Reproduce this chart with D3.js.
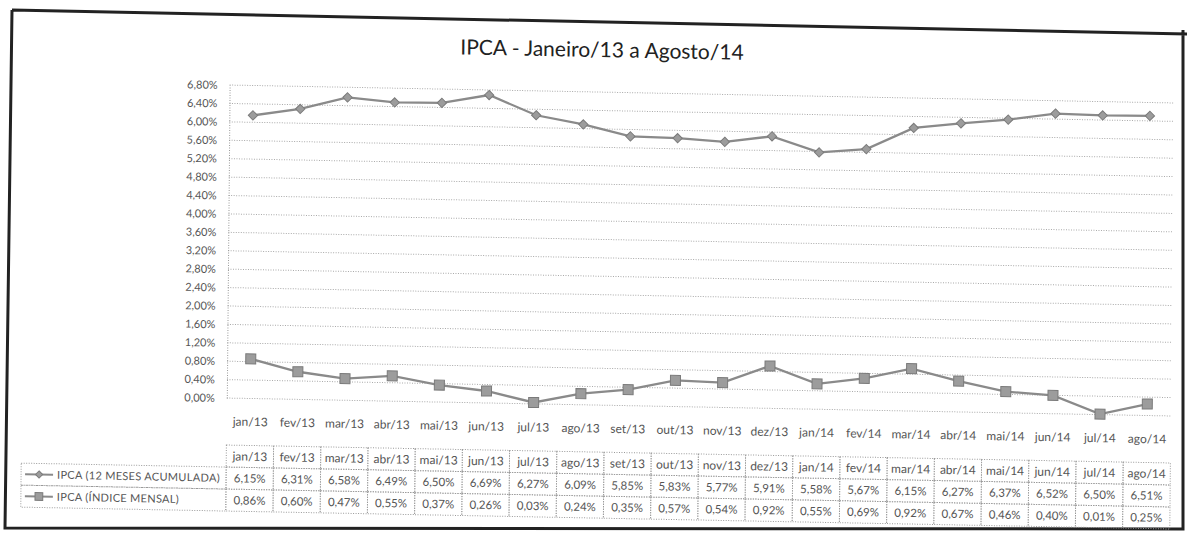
<!DOCTYPE html>
<html>
<head>
<meta charset="utf-8">
<script src="https://cdn.jsdelivr.net/npm/d3@7"></script>
<style>
  body { margin: 0; background: #fff; }
  text { font-family: Lato, "Open Sans", sans-serif; }
</style>
</head>
<body>
<div id="chart"></div>
<script>
// data
const months = ["jan/13", "fev/13", "mar/13", "abr/13", "mai/13", "jun/13", "jul/13", "ago/13", "set/13", "out/13",
                "nov/13", "dez/13", "jan/14", "fev/14", "mar/14", "abr/14", "mai/14", "jun/14", "jul/14", "ago/14"];
const acumulado = [6.15, 6.31, 6.58, 6.49, 6.50, 6.69, 6.27, 6.09, 5.85, 5.83, 5.77, 5.91, 5.58, 5.67, 6.15, 6.27, 6.37, 6.52, 6.50, 6.51];
const mensal = [0.86, 0.60, 0.47, 0.55, 0.37, 0.26, 0.03, 0.24, 0.35, 0.57, 0.54, 0.92, 0.55, 0.69, 0.92, 0.67, 0.46, 0.40, 0.01, 0.25];
const seriesNames = ["IPCA (12 MESES ACUMULADA)", "IPCA (ÍNDICE MENSAL)"];
const yTicks = [0, 0.4, 0.8, 1.2, 1.6, 2.0, 2.4, 2.8, 3.2, 3.6, 4.0, 4.4, 4.8, 5.2, 5.6, 6.0, 6.4, 6.8];
const title = "IPCA - Janeiro/13 a Agosto/14";

const W = 1187, H = 545;
const plot = { left: 228, right: 1172, top: 92, bottom: 405 };
const table = { top: 452, rowH: 22, legendLeft: 23 };

const br = d3.formatLocale({ decimal: ",", thousands: ".", grouping: [3], currency: ["R$", ""] });
const pct = v => br.format(".2f")(v) + "%";

const svg = d3.select("#chart").append("svg")
    .attr("width", W)
    .attr("height", H);

// outer frame of the scanned page (slightly skewed)
svg.append("path")
    .attr("d", "M12,10 L1190,34 M1183,30 L1183,529 L5,528 L12,10")
    .attr("fill", "none")
    .attr("stroke", "#222")
    .attr("stroke-width", 3);

// the whole chart is a bit tilted in the scan
const g = svg.append("g")
    .attr("transform", "matrix(1,0.019,-0.009,1,2.45,-11.3)");

g.append("text")
    .attr("x", 600)
    .attr("y", 57)
    .attr("text-anchor", "middle")
    .attr("font-size", 21)
    .attr("fill", "#222")
    .text(title);

const x = d3.scaleBand()
    .domain(months)
    .range([plot.left, plot.right]);

const y = d3.scaleLinear()
    .domain([0, 6.8])
    .range([plot.bottom, plot.top]);

const cx = m => x(m) + x.bandwidth() / 2;

// gridlines
g.append("g")
    .selectAll("line")
    .data(yTicks)
    .join("line")
    .attr("x1", plot.left)
    .attr("x2", plot.right)
    .attr("y1", d => y(d))
    .attr("y2", d => y(d))
    .attr("stroke", "#a8a8a8")
    .attr("stroke-dasharray", "1,1.5");

// y axis
const yAxis = g.append("g")
    .attr("transform", `translate(${plot.left},0)`)
    .call(d3.axisLeft(y).tickValues(yTicks).tickFormat(pct).tickSize(0).tickPadding(12));
yAxis.select(".domain")
    .attr("stroke", "#999")
    .attr("stroke-dasharray", "1,1.5");
yAxis.selectAll("text")
    .attr("font-size", 11)
    .attr("fill", "#555")
    .style("font-family", "Lato, sans-serif");

// x axis labels
const xAxis = g.append("g")
    .attr("transform", `translate(0,${plot.bottom})`)
    .call(d3.axisBottom(x).tickSize(0).tickPadding(19));
xAxis.select(".domain").remove();
xAxis.selectAll("text")
    .attr("font-size", 12)
    .attr("fill", "#555")
    .style("font-family", "Lato, sans-serif");

// lines
const line = d3.line()
    .x((d, i) => cx(months[i]))
    .y(d => y(d));

const series = [
    { name: seriesNames[0], values: acumulado, symbol: d3.symbolDiamond2, size: 55 },
    { name: seriesNames[1], values: mensal, symbol: d3.symbolSquare, size: 100 }
];

series.forEach(s => {
    g.append("path")
        .datum(s.values)
        .attr("d", line)
        .attr("fill", "none")
        .attr("stroke", "#8a8a8a")
        .attr("stroke-width", 2.3);

    g.append("g")
        .selectAll("path")
        .data(s.values)
        .join("path")
        .attr("transform", (d, i) => `translate(${cx(months[i])},${y(d)})`)
        .attr("d", d3.symbol().type(s.symbol).size(s.size))
        .attr("fill", "#9c9c9c")
        .attr("stroke", "#7a7a7a")
        .attr("stroke-width", 1);
});

// data table
const tbl = g.append("g");
const cellStyle = sel => sel
    .attr("fill", "none")
    .attr("stroke", "#999")
    .attr("stroke-dasharray", "1,1.5");

// header row
tbl.selectAll(".hcell")
    .data(months)
    .join("rect")
    .attr("class", "hcell")
    .attr("x", d => x(d))
    .attr("y", table.top)
    .attr("width", x.bandwidth())
    .attr("height", table.rowH)
    .call(cellStyle);

tbl.selectAll(".htext")
    .data(months)
    .join("text")
    .attr("class", "htext")
    .attr("x", d => cx(d))
    .attr("y", table.top + table.rowH / 2)
    .attr("dy", "0.35em")
    .attr("text-anchor", "middle")
    .attr("font-size", 12)
    .attr("fill", "#555")
    .text(d => d);

series.forEach((s, r) => {
    const top = table.top + table.rowH * (r + 1);
    const row = tbl.append("g");

    row.append("rect")
        .attr("x", table.legendLeft)
        .attr("y", top)
        .attr("width", plot.left - table.legendLeft)
        .attr("height", table.rowH)
        .call(cellStyle);

    row.selectAll(".vcell")
        .data(s.values)
        .join("rect")
        .attr("class", "vcell")
        .attr("x", (d, i) => x(months[i]))
        .attr("y", top)
        .attr("width", x.bandwidth())
        .attr("height", table.rowH)
        .call(cellStyle);

    row.selectAll(".vtext")
        .data(s.values)
        .join("text")
        .attr("class", "vtext")
        .attr("x", (d, i) => cx(months[i]))
        .attr("y", top + table.rowH / 2)
        .attr("dy", "0.35em")
        .attr("text-anchor", "middle")
        .attr("font-size", 11.5)
        .attr("fill", "#555")
        .text(pct);

    // legend key
    const ky = top + table.rowH / 2;
    row.append("line")
        .attr("x1", table.legendLeft + 4)
        .attr("x2", table.legendLeft + 32)
        .attr("y1", ky)
        .attr("y2", ky)
        .attr("stroke", "#8a8a8a")
        .attr("stroke-width", 2);
    row.append("path")
        .attr("transform", `translate(${table.legendLeft + 18},${ky})`)
        .attr("d", d3.symbol().type(s.symbol).size(s.size * 0.6))
        .attr("fill", "#9c9c9c")
        .attr("stroke", "#7a7a7a");
    row.append("text")
        .attr("x", table.legendLeft + 36)
        .attr("y", ky)
        .attr("dy", "0.35em")
        .attr("font-size", 11)
        .attr("letter-spacing", 0.3)
        .attr("fill", "#555")
        .text(s.name);
});
</script>
</body>
</html>
